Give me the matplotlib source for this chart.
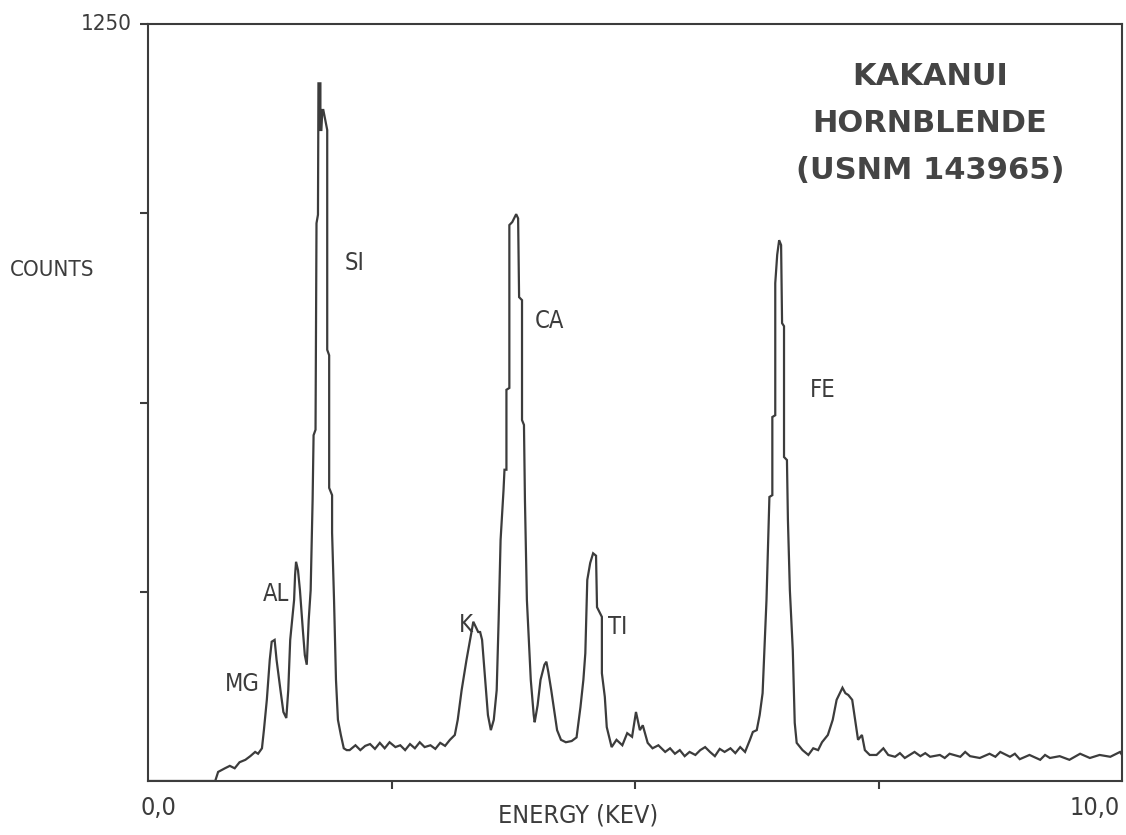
import numpy as np
import matplotlib.pyplot as plt

# Spectrum trace: energy (keV) and counts
energy = [0.00, 0.69, 0.72, 0.79, 0.84, 0.89, 0.94, 1.00, 1.05, 1.10, 1.13, 1.17,
          1.19, 1.22, 1.25, 1.27, 1.30, 1.32, 1.36, 1.39, 1.42, 1.44, 1.46, 1.50,
          1.51, 1.52, 1.54, 1.56, 1.59, 1.61, 1.63, 1.65, 1.67, 1.69, 1.70, 1.72,
          1.73, 1.745, 1.75, 1.77, 1.77, 1.78, 1.79, 1.80, 1.84, 1.84, 1.86, 1.86,
          1.89, 1.89, 1.91, 1.93, 1.95, 1.98, 2.01, 2.04,
          2.07, 2.13, 2.18, 2.23, 2.28, 2.33, 2.38, 2.43, 2.48, 2.54, 2.59, 2.64,
          2.69, 2.74, 2.79, 2.84, 2.90, 2.95, 3.00, 3.05, 3.10, 3.15, 3.18, 3.22,
          3.27, 3.31, 3.34, 3.37, 3.39, 3.41, 3.43, 3.45, 3.47, 3.49, 3.52, 3.55,
          3.58, 3.60, 3.62, 3.65, 3.66, 3.68, 3.68, 3.71, 3.71, 3.74, 3.78, 3.80,
          3.81, 3.84, 3.84, 3.86, 3.87, 3.89, 3.93, 3.96, 3.97, 4.00, 4.03, 4.07,
          4.09, 4.11, 4.14, 4.17, 4.20, 4.24, 4.29, 4.35, 4.40, 4.44, 4.47, 4.49,
          4.51, 4.54, 4.57, 4.60, 4.61, 4.66, 4.66, 4.69, 4.71, 4.76, 4.81, 4.87,
          4.92, 4.97, 5.01, 5.05, 5.08, 5.13, 5.18, 5.24,
          5.31, 5.36, 5.41, 5.46, 5.51, 5.56, 5.62, 5.67, 5.72, 5.77, 5.82, 5.87,
          5.92, 5.98, 6.03, 6.08, 6.13, 6.18, 6.21, 6.25, 6.28, 6.31, 6.35, 6.38,
          6.41, 6.41, 6.44, 6.44, 6.46, 6.48, 6.50, 6.51, 6.53, 6.53, 6.56, 6.57,
          6.59, 6.62, 6.64, 6.66, 6.72, 6.78, 6.83, 6.88, 6.92, 6.98, 7.03, 7.07,
          7.13, 7.16, 7.19, 7.23, 7.26, 7.29, 7.33, 7.36, 7.41, 7.48, 7.55, 7.60,
          7.67, 7.72, 7.77, 7.82, 7.87, 7.93, 7.98, 8.03, 8.13, 8.18, 8.23, 8.34,
          8.39, 8.44, 8.54, 8.64, 8.70, 8.75, 8.85, 8.90, 8.95, 9.05, 9.16, 9.21,
          9.26, 9.36, 9.46, 9.57, 9.67, 9.77, 9.88, 9.98, 10.00]
counts = [0, 0, 15, 21, 25, 21, 31, 35, 41, 48, 45, 54,
          84, 134, 200, 230, 233, 200, 150, 114, 104, 150, 233, 299,
          340, 362, 348, 315, 249, 208, 192, 266, 315, 464, 571, 580,
          921, 935, 1152, 1152, 1075, 1075, 1108, 1108, 1075, 712, 703, 484,
          472, 410, 299, 167, 101, 76, 54, 51,
          51, 59, 51, 58, 61, 53, 63, 54, 64, 56, 59, 51,
          61, 54, 64, 56, 59, 53, 63, 58, 68, 76, 101, 150,
          200, 236, 263, 253, 246, 246, 233, 192, 150, 109, 84, 101,
          150, 266, 398, 480, 514, 514, 646, 649, 918, 923, 936, 929,
          799, 794, 596, 588, 464, 299, 167, 109, 97, 125, 167, 192,
          197, 180, 150, 117, 84, 68, 64, 66, 72, 122, 167, 211,
          332, 360, 376, 372, 287, 271, 178, 139, 89, 56, 68, 59,
          79, 73, 114, 84, 92, 63, 54, 59,
          48, 54, 45, 51, 41, 48, 43, 51, 56, 48, 41, 53,
          48, 54, 46, 56, 48, 68, 81, 84, 109, 145, 299, 469,
          472, 601, 604, 822, 869, 893, 885, 756, 751, 535, 530, 431,
          315, 216, 96, 63, 51, 43, 54, 51, 64, 76, 101, 134,
          154, 145, 142, 134, 101, 68, 76, 51, 43, 43, 54, 43,
          40, 46, 38, 43, 48, 41, 46, 40, 43, 38, 45, 40,
          48, 41, 38, 45, 40, 48, 40, 45, 36, 43, 35, 43,
          38, 41, 35, 45, 38, 43, 40, 48, 43]

# Element labels and where they sit (keV, counts)
elements = ['MG', 'AL', 'SI', 'K', 'CA', 'TI', 'FE']
label_e = [0.79, 1.18, 2.02, 3.19, 3.97, 4.72, 6.80]
label_c = [160, 308, 855, 258, 760, 255, 645]

title_lines = ['KAKANUI', 'HORNBLENDE', '(USNM 143965)']

ink = '#3c3c3c'

fig = plt.figure(figsize=(11.26, 8.35), dpi=100)
ax = fig.add_axes([148/1126, 54/835, 974/1126, 757/835])

ax.plot(energy, counts, color=ink, lw=1.6, solid_joinstyle='miter')

ax.set_xlim(0, 10)
ax.set_ylim(0, 1250)
for s in ax.spines.values():
    s.set_color(ink)
    s.set_linewidth(1.5)

ax.set_xticks([2.5, 5.0, 7.5])
ax.set_yticks([312.5, 625, 937.5, 1250])
ax.set_xticklabels([])
ax.set_yticklabels([])
ax.tick_params(direction='out', length=6, width=1.5, color=ink)

hand = dict(color=ink, family='DejaVu Sans', fontstretch='condensed')
ax.text(-0.017, 1.0, '1250', transform=ax.transAxes, ha='right', va='center',
        fontsize=16, **hand)
ax.text(-0.008, -0.02, '0,0', transform=ax.transAxes, ha='left', va='top',
        fontsize=18, **hand)
ax.text(0.998, -0.02, '10,0', transform=ax.transAxes, ha='right', va='top',
        fontsize=18, **hand)
fig.text(10/1126, 1 - 270/835, 'COUNTS', ha='left', va='center', fontsize=16, **hand)
ax.text(0.442, -0.03, 'ENERGY (KEV)', transform=ax.transAxes, ha='center', va='top',
        fontsize=18, **hand)

for name, e, c in zip(elements, label_e, label_c):
    ax.text(e, c, name, ha='left', va='center', fontsize=17, **hand)

for i, line in enumerate(title_lines):
    ax.text(0.803, 0.93 - i * 0.062, line, transform=ax.transAxes, ha='center',
            va='center', fontsize=22, fontweight='bold', color='#444444',
            family='DejaVu Sans')

fig.savefig('out.png', dpi=100, facecolor='white')
